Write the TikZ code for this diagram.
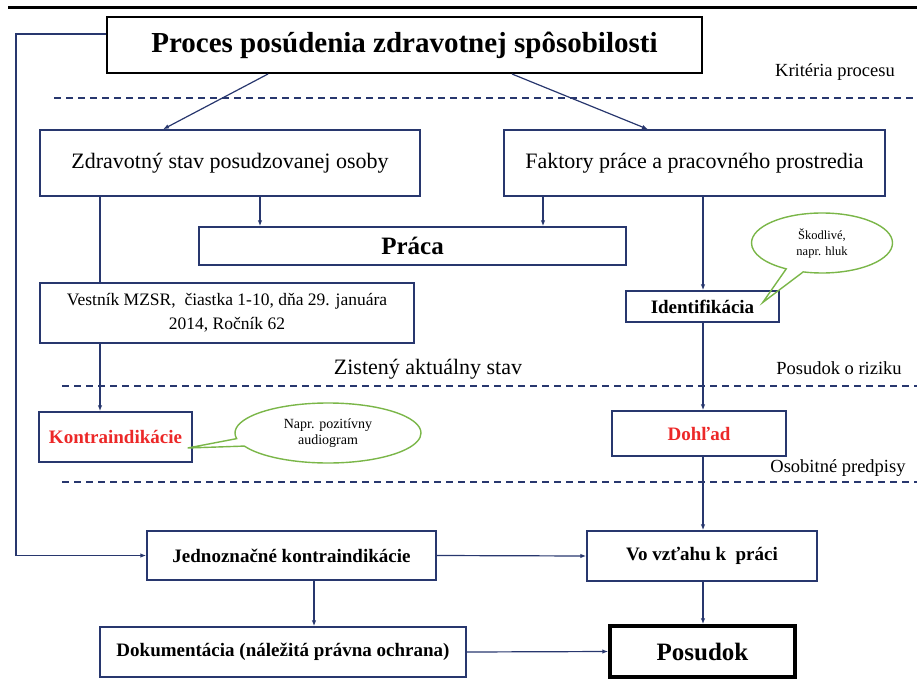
\documentclass[tikz,border=0pt]{standalone}
\usepackage{fontspec}
\setmainfont{Liberation Serif}
\usetikzlibrary{arrows.meta,shapes.callouts}

\definecolor{navy}{RGB}{40,55,110}
\definecolor{bubblegreen}{RGB}{122,182,72}
\definecolor{alertred}{RGB}{236,40,40}

\tikzset{
  box/.style={draw=navy, line width=1.4pt, inner sep=0pt, align=center},
  boldbox/.style={box, font=\bfseries\fontsize{19}{23}\selectfont},
  link/.style={navy, line width=1.2pt, -{Latex[length=6pt,width=4.5pt]}},
  divider/.style={navy, line width=1.5pt, dash pattern=on 7pt off 5pt},
  bubble/.style={ellipse callout, draw=bubblegreen, line width=1.4pt, inner sep=0pt, align=center},
  side/.style={font=\fontsize{18.5}{22}\selectfont}
}

\begin{document}
\begin{tikzpicture}[x=1pt,y=-1pt]
  \useasboundingbox (0,0) rectangle (917,687);

  % top rule and dashed level lines
  \draw[line width=3pt] (8,8) -- (917,8);
  \draw[divider] (54,98) -- (917,98);
  \draw[divider] (62,386) -- (917,386);
  \draw[divider] (62,482) -- (917,482);

  % boxes
  \node[draw, line width=2pt, inner sep=0pt, minimum width=595pt, minimum height=56pt,
        font=\bfseries\fontsize{29}{34}\selectfont] (title) at (404.5,45) {Proces posúdenia zdravotnej spôsobilosti};
  \node[box, minimum width=380pt, minimum height=66pt, font=\fontsize{22}{26}\selectfont] (zdrav) at (230,163) {Zdravotný stav posudzovanej osoby};
  \node[box, minimum width=381pt, minimum height=66pt, font=\fontsize{22}{26}\selectfont] (faktor) at (694.5,163) {Faktory práce a pracovného prostredia};
  \node[box, minimum width=427pt, minimum height=38pt, font=\bfseries\fontsize{25}{30}\selectfont] (praca) at (412.5,246) {Práca};
  \node[box, minimum width=374pt, minimum height=60pt, font=\fontsize{17.5}{24}\selectfont] (vestnik) at (227,313) {Vestník MZSR,~ čiastka 1-10, dňa 29. januára\\2014, Ročník 62};
  \node[boldbox, minimum width=153pt, minimum height=31pt] (ident) at (702.5,306.5) {Identifikácia};
  \node[boldbox, minimum width=153pt, minimum height=50pt, text=alertred] (kontra) at (115.5,437) {Kontraindikácie};
  \node[boldbox, minimum width=174pt, minimum height=45pt, text=alertred] (dohlad) at (699,433.5) {Dohľad};
  \node[boldbox, minimum width=289pt, minimum height=49pt] (jedno) at (291.5,555.5) {Jednoznačné kontraindikácie};
  \node[boldbox, minimum width=230pt, minimum height=50pt] (vztah) at (702,556) {Vo vzťahu k~ práci};
  \node[boldbox, minimum width=366pt, minimum height=50pt] (dokum) at (283,652) {Dokumentácia (náležitá právna ochrana)};
  \node[draw, line width=3.5pt, inner sep=0pt, minimum width=185pt, minimum height=51pt,
        font=\bfseries\fontsize{25}{30}\selectfont] (posudok) at (702.5,651.5) {Posudok};

  % labels of the levels
  \node[side] (krit) at (835,72) {Kritéria procesu};
  \node[font=\fontsize{22}{26}\selectfont] (zisteny) at (428,369) {Zistený aktuálny stav};
  \node[side] (riziko) at (839,368) {Posudok o riziku};
  \node[side] (predpisy) at (838,468) {Osobitné predpisy};

  % speech bubbles
  \node[bubble, minimum width=141pt, minimum height=60pt, font=\fontsize{12.5}{16}\selectfont,
        callout absolute pointer={([xshift=-17pt,yshift=4pt]ident.east)}] (skodlive) at (822,243) {Škodlivé,\\napr. hluk};
  \node[bubble, minimum width=186pt, minimum height=60pt, font=\fontsize{14}{16}\selectfont,
        callout absolute pointer={([xshift=-5pt,yshift=-11pt]kontra.east)}] (napr) at (328,433) {Napr. pozitívny\\audiogram};

  % connectors
  \draw[link] (title.south -| 268,0) -- (zdrav.north -| 163,0);
  \draw[link] (title.south -| 512,0) -- (faktor.north -| 648,0);
  \draw[link] (zdrav.south -| 260,0) -- (praca.north -| 260,0);
  \draw[link] (faktor.south -| 543,0) -- (praca.north -| 543,0);
  \draw[navy, line width=1.2pt] (zdrav.south -| 100,0) -- (vestnik.north -| 100,0);
  \draw[link] (vestnik.south -| 100,0) -- (kontra.north -| 100,0);
  \draw[link] (faktor.south -| 703,0) -- (ident.north -| 703,0);
  \draw[link] (ident.south -| 703,0) -- (dohlad.north -| 703,0);
  \draw[link] (dohlad.south -| 703,0) -- (vztah.north -| 703,0);
  \draw[link] (vztah.south -| 703,0) -- (posudok.north -| 703,0);
  \draw[link] ([yshift=11pt]title.west) -| (16,300) |- (jedno.west);
  \draw[link] (jedno.east) -- (vztah.west);
  \draw[link] (jedno.south -| 314,0) -- (dokum.north -| 314,0);
  \draw[link] (dokum.east) -- (posudok.west);
\end{tikzpicture}
\end{document}
